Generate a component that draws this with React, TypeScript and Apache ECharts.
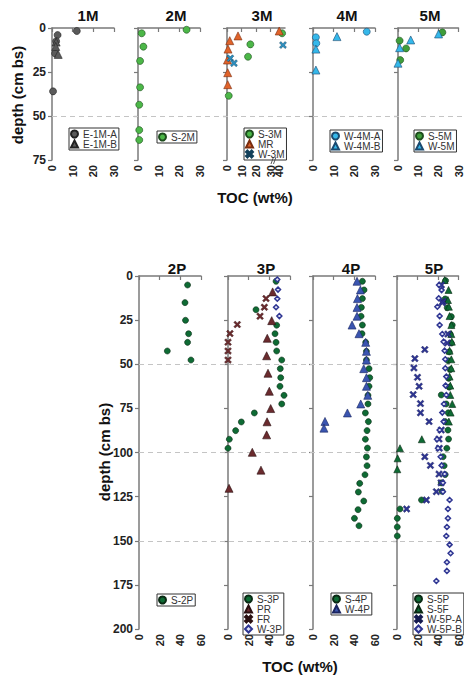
import React, { useEffect, useRef } from 'react';
import * as echarts from 'echarts';

// ---------- Data: [TOC (wt%), depth (cm bs)] ----------
// top row (M cores)
const E1M_A = [[12, 1.7], [2.7, 4], [2, 7.5], [1.5, 14.5], [0.5, 36]];
const E1M_B = [[30.5, 3.6], [2, 8], [1.8, 10.5], [3, 15]];
const S2M = [[23.5, 1], [1.8, 3], [2.6, 10.6], [1, 18.7], [1, 33.7], [0.6, 43.6], [0.6, 58], [0.6, 63.6]];
const S3M = [[50, 3], [16.1, 9.3], [14.5, 16.3], [1.2, 38.5]];
const MR = [[40, 1.7], [7.6, 4.5], [1.9, 7.2], [0.7, 12], [0.3, 18.2], [0.5, 25.4], [0.5, 32.2]];
const W3M = [[53, 9.7], [2.3, 17.2], [4.8, 20]];
const W4M_A = [[26, 2.1], [1.4, 5.3], [1.6, 8.7]];
const W4M_B = [[11.6, 4.9], [1.4, 12], [1.4, 23.9]];
const S5M = [[22, 2.5], [0.8, 7.2], [4, 11.6], [1.1, 18.2]];
const W5M = [[20.1, 3.4], [6.3, 6.8], [0.8, 11.2], [0, 20]];

// bottom row (P cores)
const S2P = [[47, 5.1], [44.5, 15.1], [45, 25.1], [48, 32.7], [47, 37.6], [27.4, 42.5], [50.3, 47.6]];
const S3P = [[46.5, 3], [27.1, 19.1], [47.1, 27.9], [45.5, 32.7], [46.5, 37.6], [47.1, 42.5], [52, 47.6], [50.6, 52.5],
  [51, 57.6], [50.3, 62.5], [54.2, 67.6], [52, 72.5], [25.5, 77.6], [12.9, 82.7], [7.4, 87.6], [1.3, 92.5], [0, 97.6]];
const PR = [[43.2, 9], [42.3, 25.3], [38, 35.3], [37.4, 45.2], [38.7, 55.1], [40, 65.3], [41.3, 75.1], [37.8, 82.6],
  [37.4, 90], [23.5, 99.9], [31.9, 110], [1, 120.3]];
const FR = [[36.8, 12.8], [35.2, 17.7], [31, 22.8], [9, 27.5], [1.9, 32.6], [0, 37.5], [0, 42.5], [0, 47.6]];
const W3P = [[47.7, 2], [48.4, 7.7], [47.7, 12.9], [46.5, 17.7], [49.7, 22.7]];
const S4P = [[47.8, 3], [49.4, 7.9], [47.8, 12.8], [46.8, 17.8], [46.5, 22.8], [47.8, 27.8], [47.4, 32.7], [51, 37.6],
  [51.7, 42.7], [51.7, 47.6], [54.2, 52.5], [54.9, 57.6], [54.2, 62.5], [53.2, 67.6], [53.2, 72.5], [50.7, 77.6],
  [53.6, 82.5], [52.3, 87.6], [50.7, 92.5], [52.7, 97.5], [51.7, 102.5], [52.3, 107.5], [50.3, 112.6], [45.2, 117.5],
  [43.9, 122.4], [49.1, 127.5], [43.6, 132.4], [40.1, 137.3], [44.5, 141.5]];
const W4P = [[42.6, 3], [45.9, 7.9], [43, 12.8], [42.6, 17.8], [42.6, 22.8], [37.8, 27.8], [44.5, 32.7], [51, 37.6],
  [51.7, 42.7], [51.7, 47.6], [49.1, 52.5], [51.7, 57.6], [51.7, 62.5], [53, 67.6], [46.2, 72.5], [33.3, 77.6],
  [11.6, 82.4], [10.6, 86.2]];
const S5P = [[47.4, 2.6], [47, 13], [49, 18], [53, 23], [53.9, 27.8], [52, 33], [53, 38], [51, 43], [50, 48], [52, 53],
  [50.5, 58], [51, 63], [43.2, 67.4], [48, 72.5], [50, 77.5], [47, 82.5], [49.7, 87.3], [50.3, 92.4], [48.6, 97.6],
  [45, 102.4], [46, 107.5], [47, 112.5], [43.2, 117.2], [44, 122], [23.9, 126.9], [2.9, 132], [0.3, 137.3],
  [0.3, 142.2], [0.3, 147.3]];
const S5F = [[46.5, 2.3], [50.3, 7.9], [49.7, 13.6], [50.6, 17.4], [51.3, 22.7], [53, 27.8], [53, 32.9], [53.5, 37.2],
  [51.3, 42.3], [53, 47.2], [53, 52.3], [51.3, 57], [52, 62.1], [52, 67.4], [53.9, 72.5], [52.3, 77.4], [50.6, 82.5],
  [24.2, 92.5], [2.9, 97.6], [0.6, 103.3], [0.3, 109.5]];
const W5P_A = [[43.3, 5.1], [44.8, 14.3], [44.2, 15.1], [49.7, 32.9], [49, 38], [27.1, 41.7], [17.4, 46.8], [16.5, 52.1],
  [20, 57.4], [21.6, 62.5], [15.8, 67.2], [22.9, 72.3], [22.9, 77.5], [31.3, 82.5], [43.2, 87.3], [41, 92.4],
  [41.3, 97.6], [27.1, 102.4], [32.6, 107.3], [41, 112.2], [43, 117.2], [38.4, 122.2], [28.7, 126.9], [9.4, 132]];
const W5P_B = [[41, 5.1], [43.5, 8], [40.7, 12.6], [39.4, 17.4], [41.6, 22.7], [41.6, 27.8], [44.2, 32.9], [45.5, 37.2],
  [46.5, 42.3], [47.1, 47.2], [47.1, 52.3], [48.1, 57], [47.4, 62.1], [48.1, 67.4], [45.8, 72.5], [44.2, 77.4],
  [45.5, 82.5], [41.6, 87.3], [39, 92.5], [40, 97.6], [42.6, 102.4], [43.5, 107.3], [46.5, 112.2], [44.8, 117.1],
  [44.8, 122.2], [51.3, 126.9], [49.7, 132], [49.7, 137.3], [48.7, 142.2], [48.1, 147.3], [51.3, 152.2], [52.3, 157.1],
  [48.7, 162.2], [48.7, 167.1], [38.4, 172.8]];

// axis ticks
const TOP_DEPTH_TICKS = [0, 25, 50, 75];
const BOT_DEPTH_TICKS = [0, 25, 50, 75, 100, 125, 150, 175, 200];
const TOP_TOC_TICKS = [0, 10, 20, 30];
const BOT_TOC_TICKS = [0, 20, 40, 60];
const M3_TOC_TICKS = [0, 10, 20, 30, 40, 60];
const TOP_REF_DEPTHS = [50];
const BOT_REF_DEPTHS = [50, 100, 150];

const TOP_TITLES = ['1M', '2M', '3M', '4M', '5M'];
const BOT_TITLES = ['2P', '3P', '4P', '5P'];

// 3M broken axis: 0-30 linear, 40-60 compressed
const brk = (v: number) => (v <= 30 ? v : 36 + (v - 40) * 0.2);
const unbrk = (t: number) => (t <= 30 ? t : Math.round(40 + (t - 36) * 5));

const FONT = '"Liberation Sans", Arial, sans-serif';
const X_SYM = 'path://M2,0L5,3L8,0L10,2L7,5L10,8L8,10L5,7L2,10L0,8L3,5L0,2Z';

const TOP_L = [52, 138, 227, 313, 398];
const BOT_L = [139, 228, 313, 397];
const TOP_TITLE_X = [88, 176, 262, 347, 430];
const BOT_TITLE_X = [177, 266, 351, 434];

export default function App() {
  const ref = useRef<HTMLDivElement>(null);
  useEffect(() => {
    if (!ref.current) return;
    const chart = echarts.init(ref.current, undefined, { renderer: 'svg' });

    const grids: any[] = [];
    const xAxes: any[] = [];
    const yAxes: any[] = [];
    const axisLine = { show: true, lineStyle: { color: '#7a7a7a', width: 1.5 } };
    const axisTick = { show: true, length: 4, lineStyle: { color: '#7a7a7a', width: 1.2 } };
    const xLab = { fontFamily: FONT, fontSize: 11, fontWeight: 'bold', color: '#222', rotate: 90, margin: 5 };
    const yLab = { fontFamily: FONT, fontSize: 12, fontWeight: 'bold', color: '#222', margin: 6 };

    // top grids
    TOP_L.forEach((l, i) => {
      grids.push({ left: l, top: 28, width: i === 2 ? 58 : 62, height: 132 });
      if (i === 2) {
        xAxes.push({
          gridIndex: i, type: 'value', min: 0, max: 40, interval: 10,
          axisLine, splitLine: { show: false },
          axisTick: { ...axisTick, customValues: M3_TOC_TICKS.map(brk) },
          axisLabel: { ...xLab, customValues: M3_TOC_TICKS.map(brk), formatter: (v: number) => String(unbrk(v)) },
        });
      } else {
        xAxes.push({
          gridIndex: i, type: 'value', min: TOP_TOC_TICKS[0], max: TOP_TOC_TICKS[3], interval: 10,
          axisLine, axisTick, splitLine: { show: false }, axisLabel: xLab,
        });
      }
      yAxes.push({
        gridIndex: i, type: 'value', inverse: true, min: TOP_DEPTH_TICKS[0], max: TOP_DEPTH_TICKS[3], interval: 25,
        axisLine, axisTick, splitLine: { show: false }, axisLabel: { ...yLab, show: i === 0 },
      });
    });
    // bottom grids
    BOT_L.forEach((l, i) => {
      grids.push({ left: l, top: 276, width: 62, height: 353 });
      xAxes.push({
        gridIndex: 5 + i, type: 'value', min: BOT_TOC_TICKS[0], max: BOT_TOC_TICKS[3], interval: 20,
        axisLine, axisTick, splitLine: { show: false }, axisLabel: xLab,
      });
      yAxes.push({
        gridIndex: 5 + i, type: 'value', inverse: true, min: BOT_DEPTH_TICKS[0], max: BOT_DEPTH_TICKS[8], interval: 25,
        axisLine, axisTick, splitLine: { show: false }, axisLabel: { ...yLab, show: i === 0 },
      });
    });
    // background grids for dashed reference lines
    const hidden = { show: false };
    grids.push({ left: 52, top: 28, width: 410, height: 132 });
    xAxes.push({ gridIndex: 9, type: 'value', min: 0, max: 1, ...hidden });
    yAxes.push({ gridIndex: 9, type: 'value', inverse: true, min: 0, max: 75, ...hidden });
    grids.push({ left: 139, top: 276, width: 323, height: 353 });
    xAxes.push({ gridIndex: 10, type: 'value', min: 0, max: 1, ...hidden });
    yAxes.push({ gridIndex: 10, type: 'value', inverse: true, min: 0, max: 200, ...hidden });

    const refLine = (gi: number, depths: number[]) => ({
      type: 'scatter', xAxisIndex: gi, yAxisIndex: gi, data: [], silent: true, z: 1,
      markLine: {
        silent: true, symbol: 'none', label: { show: false },
        lineStyle: { color: '#c4c4c4', type: [5, 4], width: 1 },
        data: depths.map((d) => ({ yAxis: d })),
      },
    });

    const mk = (name: string, gi: number, data: number[][], sym: string, color: string, border: string,
      size = 7, bw = 0.6, tx?: (v: number) => number) => ({
      type: 'scatter', name, xAxisIndex: gi, yAxisIndex: gi, z: 5,
      data: data.map(([x, y]) => [tx ? tx(x) : x, y]),
      symbol: sym, symbolSize: size,
      itemStyle: { color, borderColor: border, borderWidth: bw, opacity: 1 },
    });

    const GRAY = '#5a5a5a';
    const LGREEN = '#4cb748';
    const ORANGE = '#e0632a';
    const TEAL = '#2a8fc0';
    const LBLUE = '#35b8ea';
    const DGREEN = '#0e6b34';
    const MAROON = '#6b2b2e';
    const NAVY = '#2e3592';
    const BLUE = '#3a55b0';

    const series: any[] = [
      refLine(9, TOP_REF_DEPTHS),
      refLine(10, BOT_REF_DEPTHS),
      mk('E-1M-A', 0, E1M_A, 'circle', GRAY, '#222'),
      mk('E-1M-B', 0, E1M_B, 'triangle', GRAY, '#222', 8),
      mk('S-2M', 1, S2M, 'circle', LGREEN, '#1d4d1d'),
      mk('S-3M', 2, S3M, 'circle', LGREEN, '#1d4d1d', 7, 0.6, brk),
      mk('MR', 2, MR, 'triangle', ORANGE, '#7a2e10', 8, 0.6, brk),
      mk('W-3M', 2, W3M, X_SYM, TEAL, '#12405a', 7, 0.5, brk),
      mk('W-4M-A', 3, W4M_A, 'circle', LBLUE, '#1b4a70'),
      mk('W-4M-B', 3, W4M_B, 'triangle', LBLUE, '#1b4a70', 8),
      mk('S-5M', 4, S5M, 'circle', '#3f9e3a', '#1d4d1d'),
      mk('W-5M', 4, W5M, 'triangle', LBLUE, '#1b4a70', 8),
      mk('S-2P', 5, S2P, 'circle', DGREEN, '#0a2a14', 6),
      mk('S-3P', 6, S3P, 'circle', DGREEN, '#0a2a14', 6),
      mk('PR', 6, PR, 'triangle', MAROON, '#2a0f10', 8),
      mk('FR', 6, FR, X_SYM, MAROON, '#2a0f10', 7, 0.4),
      mk('W-3P', 6, W3P, 'diamond', '#dfe2f5', NAVY, 5, 1.5),
      mk('S-4P', 7, S4P, 'circle', DGREEN, '#0a2a14', 6),
      mk('W-4P', 7, W4P, 'triangle', BLUE, '#1a2560', 8),
      mk('S-5P', 8, S5P, 'circle', DGREEN, '#0a2a14', 6),
      mk('S-5F', 8, S5F, 'triangle', DGREEN, '#0a2a14', 7),
      mk('W-5P-A', 8, W5P_A, X_SYM, NAVY, '#141a50', 7, 0.4),
      mk('W-5P-B', 8, W5P_B, 'diamond', '#dfe2f5', NAVY, 5, 1.5),
    ];

    const legendDefs: [string[], number, number][] = [
      [['E-1M-A', 'E-1M-B'], 69, 128],
      [['S-2M'], 157, 131],
      [['S-3M', 'MR', 'W-3M'], 244, 128],
      [['W-4M-A', 'W-4M-B'], 330, 130],
      [['S-5M', 'W-5M'], 414, 130],
      [['S-2P'], 157, 594],
      [['S-3P', 'PR', 'FR', 'W-3P'], 243, 593],
      [['S-4P', 'W-4P'], 331, 593],
      [['S-5P', 'S-5F', 'W-5P-A', 'W-5P-B'], 413, 593],
    ];
    const legend = legendDefs.map(([names, left, top]) => ({
      data: names, left, top, orient: 'vertical', itemGap: 0, itemWidth: 7, itemHeight: 7,
      padding: [1, 2, 1, 1], borderColor: '#333', borderWidth: 1, backgroundColor: '#fff',
      selectedMode: false, z: 10,
      textStyle: { fontFamily: FONT, fontSize: 10, color: '#333', lineHeight: 8.5 },
    }));

    const txt = (text: string, x: number, y: number, size: number, rot = 0) => ({
      type: 'text', x, y, rotation: rot, z: 20,
      style: {
        text, fill: '#111', font: `bold ${size}px ${FONT}`,
        align: 'center', verticalAlign: 'middle', textAlign: 'center', textVerticalAlign: 'middle',
      },
    });
    const graphic: any[] = [
      ...TOP_TITLES.map((t, i) => txt(t, TOP_TITLE_X[i], 15, 15)),
      ...BOT_TITLES.map((t, i) => txt(t, BOT_TITLE_X[i], 268, 15)),
      txt('depth (cm bs)', 17, 95, 15, Math.PI / 2),
      txt('depth (cm bs)', 104, 452, 15, Math.PI / 2),
      txt('TOC (wt%)', 255, 197, 15),
      txt('TOC (wt%)', 300, 666, 15),
      // axis-break mark on the 3M TOC axis
      { type: 'line', z: 20, shape: { x1: 271, y1: 164, x2: 273.5, y2: 157 }, style: { stroke: '#333', lineWidth: 0.8 } },
      { type: 'line', z: 20, shape: { x1: 273.5, y1: 164, x2: 276, y2: 157 }, style: { stroke: '#333', lineWidth: 0.8 } },
    ];

    chart.setOption({
      animation: false,
      backgroundColor: '#fff',
      grid: grids,
      xAxis: xAxes,
      yAxis: yAxes,
      legend,
      graphic,
      series,
    });
    return () => chart.dispose();
  }, []);
  return <div ref={ref} style={{ position: 'absolute', left: 0, top: 0, width: 464, height: 675 }} />;
}
